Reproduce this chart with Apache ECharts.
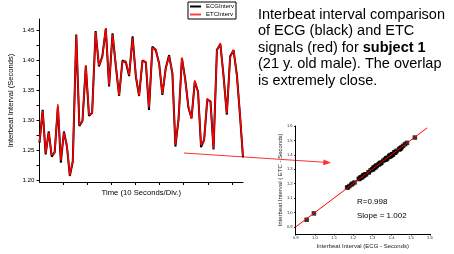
<!DOCTYPE html>
<html>
<head>
<meta charset="utf-8">
<script src="https://cdn.jsdelivr.net/npm/echarts@6/dist/echarts.min.js"></script>
<style>
  html, body { margin: 0; padding: 0; background: #fff; }
  #chart { width: 454px; height: 254px; }
</style>
</head>
<body>
<div id="chart"></div>
<script>
    // interbeat intervals (seconds)
    var ecgInterv = [1.262, 1.317, 1.243, 1.281, 1.239, 1.247, 1.322, 1.229, 1.281, 1.256,
        1.207, 1.231, 1.442, 1.290, 1.299, 1.390, 1.307, 1.312, 1.448, 1.389,
        1.406, 1.452, 1.356, 1.444, 1.389, 1.340, 1.399, 1.396, 1.373, 1.439,
        1.372, 1.340, 1.399, 1.396, 1.317, 1.422, 1.416, 1.394, 1.342, 1.386,
        1.408, 1.377, 1.256, 1.302, 1.403, 1.368, 1.321, 1.303, 1.364, 1.347,
        1.255, 1.267, 1.334, 1.331, 1.251, 1.417, 1.426, 1.372, 1.309, 1.406,
        1.416, 1.375, 1.307, 1.238];
    var etcInterv = [1.264, 1.315, 1.245, 1.279, 1.242, 1.245, 1.326, 1.233, 1.279, 1.258,
        1.208, 1.232, 1.441, 1.292, 1.298, 1.391, 1.309, 1.311, 1.446, 1.391,
        1.404, 1.453, 1.358, 1.442, 1.391, 1.341, 1.397, 1.398, 1.375, 1.436,
        1.374, 1.341, 1.398, 1.397, 1.321, 1.420, 1.418, 1.392, 1.344, 1.385,
        1.406, 1.379, 1.259, 1.300, 1.404, 1.366, 1.323, 1.302, 1.366, 1.346,
        1.258, 1.265, 1.336, 1.330, 1.253, 1.415, 1.428, 1.370, 1.311, 1.404,
        1.417, 1.373, 1.309, 1.240];
    // extra beats only in the scatter (whole recording)
    var extraEcg = [0.957, 0.995, 1.168, 1.172, 1.180, 1.190, 1.196, 1.460, 1.470, 1.480, 1.521];
    var extraEtc = [0.949, 0.993, 1.172, 1.175, 1.183, 1.193, 1.200, 1.462, 1.474, 1.483, 1.520];
    var fitLine = [[0.9, 0.899], [1.585, 1.587]];

    var yTicks = [1.2, 1.225, 1.25, 1.275, 1.3, 1.325, 1.35, 1.375, 1.4, 1.425, 1.45];
    var yLabels = [1.2, 1.25, 1.3, 1.35, 1.4, 1.45];
    var timeTicks = [10, 20, 30, 40, 50, 60, 70, 80];
    var scatterTicks = [0.9, 1.0, 1.1, 1.2, 1.3, 1.4, 1.5, 1.6];

    var font = 'Liberation Sans, Arial, sans-serif';

    // time axis: beat times = running sum of the ECG intervals
    var beatTime = [0];
    for (var i = 1; i < ecgInterv.length; i++) {
        beatTime.push(beatTime[i - 1] + ecgInterv[i]);
    }
    var ecgData = [], etcData = [], scatterData = [];
    for (var j = 0; j < ecgInterv.length; j++) {
        ecgData.push([beatTime[j], ecgInterv[j]]);
        etcData.push([beatTime[j], etcInterv[j]]);
        scatterData.push([ecgInterv[j], etcInterv[j]]);
    }
    for (var k = 0; k < extraEcg.length; k++) {
        scatterData.push([extraEcg[k], extraEtc[k]]);
    }

    var chart = echarts.init(document.getElementById('chart'), null, {renderer: 'canvas'});
    var option = {
        animation: false,
        backgroundColor: '#fff',
        textStyle: {fontFamily: font},
        grid: [
            {left: 39.5, top: 19, width: 203.5, height: 163},
            {left: 295.7, top: 126, width: 134.3, height: 108}
        ],
        legend: {
            data: [
                {name: 'ECGInterv', icon: 'rect', itemStyle: {color: '#000'}},
                {name: 'ETCInterv', icon: 'rect', itemStyle: {color: '#ff4040'}}
            ],
            orient: 'vertical',
            left: 188,
            top: 2,
            padding: [1, 2, 1, 2],
            itemGap: 1,
            itemWidth: 11,
            itemHeight: 2,
            borderColor: '#000',
            borderWidth: 1,
            borderRadius: 0,
            textStyle: {fontSize: 6, color: '#000', fontFamily: font, lineHeight: 7}
        },
        xAxis: [
            {
                gridIndex: 0, type: 'value', min: 0, max: beatTime[beatTime.length - 1],
                name: 'Time (10 Seconds/Div.)', nameLocation: 'middle', nameGap: 7,
                nameTextStyle: {fontSize: 7.7, color: '#000', fontFamily: font},
                axisLine: {show: true, lineStyle: {color: '#000', width: 1}},
                axisTick: {show: true, inside: false, length: 3, customValues: timeTicks, lineStyle: {color: '#000'}},
                axisLabel: {show: false},
                splitLine: {show: false}
            },
            {
                gridIndex: 1, type: 'value', min: 0.9, max: 1.6,
                name: 'Interbeat Interval (ECG - Seconds)', nameLocation: 'middle', nameGap: 9,
                nameTextStyle: {fontSize: 6, color: '#222', fontFamily: font},
                axisLine: {show: true, lineStyle: {color: '#000', width: 1}},
                axisTick: {show: true, length: 1.5, customValues: scatterTicks, lineStyle: {color: '#000'}},
                axisLabel: {
                    customValues: scatterTicks, fontSize: 4.2, color: '#333', margin: 2,
                    formatter: function (v) { return v.toFixed(1); }
                },
                splitLine: {show: false}
            }
        ],
        yAxis: [
            {
                gridIndex: 0, type: 'value', min: 1.197, max: 1.468,
                name: 'Interbeat Interval (Seconds)', nameLocation: 'middle', nameGap: 25,
                nameTextStyle: {fontSize: 7.6, color: '#000', fontFamily: font},
                axisLine: {show: true, lineStyle: {color: '#000', width: 1}},
                axisTick: {show: true, inside: false, length: 3, customValues: yTicks, lineStyle: {color: '#000'}},
                axisLabel: {
                    customValues: yLabels, fontSize: 6.2, color: '#000', margin: 5,
                    formatter: function (v) { return v.toFixed(2); }
                },
                splitLine: {show: false}
            },
            {
                gridIndex: 1, type: 'value', min: 0.85, max: 1.6,
                name: 'Interbeat Interval ( ETC - Seconds)', nameLocation: 'middle', nameGap: 11,
                nameTextStyle: {fontSize: 6, color: '#222', fontFamily: font},
                axisLine: {show: true, lineStyle: {color: '#000', width: 1}},
                axisTick: {show: true, length: 1.5, customValues: scatterTicks, lineStyle: {color: '#000'}},
                axisLabel: {
                    customValues: scatterTicks, fontSize: 4.2, color: '#333', margin: 3,
                    formatter: function (v) { return v.toFixed(1); }
                },
                splitLine: {show: false}
            }
        ],
        series: [
            {
                name: 'ECGInterv', type: 'line', xAxisIndex: 0, yAxisIndex: 0,
                data: ecgData, symbol: 'none',
                lineStyle: {color: '#000', width: 2}, itemStyle: {color: '#000'}
            },
            {
                name: 'ETCInterv', type: 'line', xAxisIndex: 0, yAxisIndex: 0,
                data: etcData, symbol: 'none',
                lineStyle: {color: '#ff0000', width: 1.5}, itemStyle: {color: '#ff0000'}
            },
            {
                name: 'fit', type: 'line', xAxisIndex: 1, yAxisIndex: 1,
                data: fitLine, symbol: 'none',
                lineStyle: {color: '#ff0000', width: 1}
            },
            {
                name: 'pairs', type: 'scatter', xAxisIndex: 1, yAxisIndex: 1,
                data: scatterData, symbol: 'rect', symbolSize: 4.5,
                itemStyle: {color: '#000'}
            }
        ],
        graphic: [
            {
                type: 'line', silent: true,
                shape: {x1: 184, y1: 153, x2: 325, y2: 162.3},
                style: {stroke: '#ff3030', lineWidth: 1}
            },
            {
                type: 'polygon', silent: true,
                shape: {points: [[331, 162.7], [323.5, 159.6], [323.2, 165.2]]},
                style: {fill: '#ff3030'}
            },
            {
                type: 'text', left: 258, top: 6.8, silent: true,
                style: {
                    text: 'Interbeat interval comparison\nof ECG (black) and ETC\n{b|signals (red) for }{bb|subject 1}\n(21 y. old male). The overlap\nis extremely close.',
                    font: '14.5px ' + font,
                    fill: '#000',
                    lineHeight: 16.4,
                    rich: {
                        b: {font: '14.5px ' + font, fill: '#000', lineHeight: 16.4},
                        bb: {font: 'bold 14.5px ' + font, fill: '#000', lineHeight: 16.4}
                    }
                }
            },
            {
                type: 'text', left: 357, top: 198, silent: true,
                style: {text: 'R=0.998', font: '8px ' + font, fill: '#000'}
            },
            {
                type: 'text', left: 357, top: 211.5, silent: true,
                style: {text: 'Slope = 1.002', font: '8px ' + font, fill: '#000'}
            }
        ]
    };
    chart.setOption(option);
</script>
</body>
</html>
